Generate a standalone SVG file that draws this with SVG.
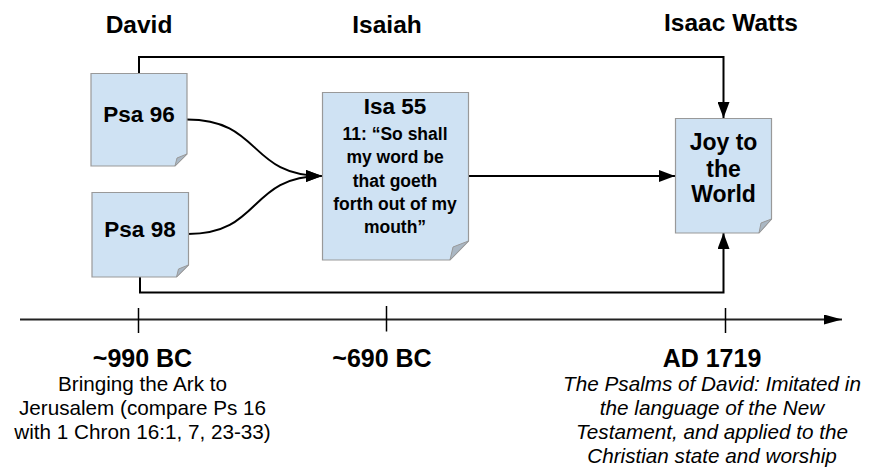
<svg xmlns="http://www.w3.org/2000/svg" width="875" height="472" viewBox="0 0 875 472">
<defs>
<style>
.hdr{font-family:"Liberation Sans",Arial,sans-serif;font-weight:bold;font-size:24.5px;text-anchor:middle;fill:#000}
.nt{font-family:"Liberation Sans",Arial,sans-serif;font-weight:bold;font-size:22.5px;text-anchor:middle;fill:#000}
.jt{font-family:"Liberation Sans",Arial,sans-serif;font-weight:bold;font-size:23px;text-anchor:middle;fill:#000}
.st{font-family:"Liberation Sans",Arial,sans-serif;font-weight:bold;font-size:17.5px;text-anchor:middle;fill:#000}
.dt{font-family:"Liberation Sans",Arial,sans-serif;font-weight:bold;font-size:25px;text-anchor:middle;fill:#000}
.ds{font-family:"Liberation Sans",Arial,sans-serif;font-size:20.7px;text-anchor:middle;fill:#000}
.it{font-style:italic}
.page{fill:#cfe2f3;stroke:#999;stroke-width:1.2}
.fold{fill:#aab7c3;stroke:#999;stroke-width:1}
.con{fill:none;stroke:#000;stroke-width:2}
.axis{fill:none;stroke:#222;stroke-width:2}
.tick{stroke:#000;stroke-width:1.5}
</style>
<marker id="ah" viewBox="0 0 16 12" refX="16" refY="6" markerWidth="16" markerHeight="12" markerUnits="userSpaceOnUse" orient="auto">
<path d="M0,0 L16,6 L0,12 Z" fill="#000"/>
</marker>
<marker id="ah2" viewBox="0 0 18 10" refX="18" refY="5" markerWidth="18" markerHeight="10" markerUnits="userSpaceOnUse" orient="auto">
<path d="M0,0 L18,5 L0,10 Z" fill="#000"/>
</marker>
</defs>

<g id="headers">
<text class="hdr" x="139" y="33">David</text>
<text class="hdr" x="387" y="33">Isaiah</text>
<text class="hdr" x="731" y="31">Isaac Watts</text>
</g>

<g id="connectors">
<path class="con" d="M139,73 V57 H723.5 V118" marker-end="url(#ah)"/>
<path class="con" d="M140,277 V292.5 H723.5 V233" marker-end="url(#ah)"/>
<path class="con" d="M187,119.5 C262,119.5 248,176 322,176" marker-end="url(#ah)"/>
<path class="con" d="M188,234 C262,234 248,176 322,176" marker-end="url(#ah)"/>
<path class="con" d="M468,176 H675" marker-end="url(#ah)"/>
</g>

<g id="psa96">
<path class="page" d="M91,73.5 H187 V154 L175,166 H91 Z"/>
<path class="fold" d="M175,166 L187,154 L177,158 Z"/>
<text class="nt" x="139" y="122">Psa 96</text>
</g>

<g id="psa98">
<path class="page" d="M92,192.5 H188.5 V265 L176.5,277 H92 Z"/>
<path class="fold" d="M176.5,277 L188.5,265 L178.5,269 Z"/>
<text class="nt" x="140" y="237">Psa 98</text>
</g>

<g id="isa55">
<path class="page" d="M322.5,92.5 H468.5 V241 L450,260 H322.5 Z"/>
<path class="fold" d="M450,260 L468.5,241 L453,247 Z"/>
<text class="nt" x="395" y="114">Isa 55</text>
<text class="st" x="395" y="140">11: “So shall</text>
<text class="st" x="395" y="163.3">my word be</text>
<text class="st" x="395" y="186.7">that goeth</text>
<text class="st" x="395" y="210">forth out of my</text>
<text class="st" x="395" y="233.3">mouth”</text>
</g>

<g id="joy">
<path class="page" d="M675.5,118.5 H771.5 V219 L759,233 H675.5 Z"/>
<path class="fold" d="M759,233 L771.5,219 L761,223 Z"/>
<text class="jt" x="723.5" y="150">Joy to</text>
<text class="jt" x="723.5" y="176.5">the</text>
<text class="jt" x="723.5" y="202">World</text>
</g>

<g id="timeline">
<path class="axis" d="M20,319.5 H842" marker-end="url(#ah2)"/>
<line class="tick" x1="138.5" y1="308" x2="138.5" y2="333"/>
<line class="tick" x1="386.5" y1="306" x2="386.5" y2="331.5"/>
<line class="tick" x1="725.5" y1="308" x2="725.5" y2="333"/>
</g>

<g id="label-990">
<text class="dt" x="142.5" y="367">~990 BC</text>
<text class="ds" x="142.5" y="391">Bringing the Ark to</text>
<text class="ds" x="142.5" y="415">Jerusalem (compare Ps 16</text>
<text class="ds" x="142.5" y="439">with 1 Chron 16:1, 7, 23-33)</text>
</g>

<g id="label-690">
<text class="dt" x="382" y="367">~690 BC</text>
</g>

<g id="label-1719">
<text class="dt" x="712" y="367">AD 1719</text>
<text class="ds it" x="712" y="391">The Psalms of David: Imitated in</text>
<text class="ds it" x="712" y="415">the language of the New</text>
<text class="ds it" x="712" y="439">Testament, and applied to the</text>
<text class="ds it" x="712" y="463">Christian state and worship</text>
</g>
</svg>
